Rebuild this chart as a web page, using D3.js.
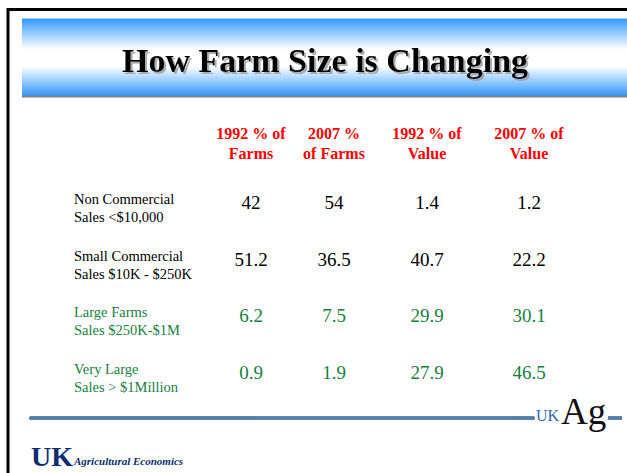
<html><head><title>How Farm Size is Changing</title>
<style>
    body { margin: 0; padding: 0; background: #fff; overflow: hidden; }
    svg { display: block; }
    svg text { font-family: 'Liberation Serif', 'Times New Roman', serif; }
</style>
</head>
<body>
<svg id="chart" width="627" height="473"></svg>
<script src="https://d3js.org/d3.v7.min.js"></script>
<script>
    const title = "How Farm Size is Changing";
    const columns = ["1992 % of Farms", "2007 % of Farms", "1992 % of Value", "2007 % of Value"];
    const columnLines = [["1992 % of", "Farms"], ["2007 %", "of Farms"], ["1992 % of", "Value"], ["2007 % of", "Value"]];
    const rows = ["Non Commercial", "Small Commercial", "Large Farms", "Very Large"];
    const rowSubLabels = ["Sales <$10,000", "Sales $10K - $250K", "Sales $250K-$1M", "Sales > $1Million"];
    const farms1992 = [42, 51.2, 6.2, 0.9];
    const farms2007 = [54, 36.5, 7.5, 1.9];
    const value1992 = [1.4, 40.7, 29.9, 27.9];
    const value2007 = [1.2, 22.2, 30.1, 46.5];
    const seriesValues = [farms1992, farms2007, value1992, value2007];

    const W = 627, H = 473;
    const green = "#17803f";
    const svg = d3.select("#chart");
    const defs = svg.append("defs");

    // frame
    svg.append("path")
        .attr("d", `M8,${H} L8,9.5 L${W},9.5`)
        .attr("fill", "none").attr("stroke", "#000").attr("stroke-width", 3);

    // title banner
    const grad = defs.append("linearGradient").attr("id", "banner")
        .attr("x1", 0).attr("y1", 0).attr("x2", 0).attr("y2", 1);
    grad.append("stop").attr("offset", "0%").attr("stop-color", "#3399ff");
    grad.append("stop").attr("offset", "40%").attr("stop-color", "#ffffff");
    grad.append("stop").attr("offset", "62%").attr("stop-color", "#ffffff");
    grad.append("stop").attr("offset", "100%").attr("stop-color", "#3399ff");

    const rule = defs.append("linearGradient").attr("id", "rule")
        .attr("x1", 0).attr("y1", 0).attr("x2", 0).attr("y2", 1);
    rule.append("stop").attr("offset", "0%").attr("stop-color", "#2c4f7c");
    rule.append("stop").attr("offset", "50%").attr("stop-color", "#5f95cc");
    rule.append("stop").attr("offset", "100%").attr("stop-color", "#2c4f7c");

    const shadow = defs.append("filter").attr("id", "shadow")
        .attr("x", "-5%").attr("y", "-20%").attr("width", "110%").attr("height", "140%");
    shadow.append("feDropShadow").attr("dx", 2).attr("dy", 2).attr("stdDeviation", 0.6)
        .attr("flood-color", "#9a9a9a").attr("flood-opacity", 0.8);

    svg.append("rect").attr("x", 22).attr("y", 95).attr("width", W - 22).attr("height", 2.5).attr("fill", "#808080");
    svg.append("rect").attr("x", 22).attr("y", 18.5).attr("width", W - 22).attr("height", 77).attr("fill", "url(#banner)");

    svg.append("text").attr("x", 325).attr("y", 72)
        .attr("text-anchor", "middle").attr("font-size", 34).attr("font-weight", "bold")
        .attr("fill", "#000").attr("filter", "url(#shadow)").text(title);

    // scales
    const x = d3.scaleOrdinal().domain(columns).range([251, 334, 427, 529]);
    const y = d3.scalePoint().domain(rows).range([209, 379]);
    const color = d3.scaleOrdinal().domain(rows).range(["#000", "#000", green, green]);

    // column headers
    const head = svg.append("g").selectAll("text").data(columns).join("text")
        .attr("x", d => x(d)).attr("y", 139)
        .attr("text-anchor", "middle").attr("font-size", 16).attr("font-weight", "bold")
        .attr("fill", "#ff0000");
    head.each(function(d, i) {
        d3.select(this).selectAll("tspan").data(columnLines[i]).join("tspan")
            .attr("x", x(d)).attr("dy", (t, j) => j === 0 ? 0 : 20).text(t => t);
    });

    // row labels
    const lab = svg.append("g").selectAll("text").data(rows).join("text")
        .attr("x", 74).attr("y", d => y(d) - 5)
        .attr("font-size", 14.5).attr("fill", d => color(d));
    lab.each(function(d, i) {
        d3.select(this).selectAll("tspan").data([d, rowSubLabels[i]]).join("tspan")
            .attr("x", 74).attr("dy", (t, j) => j === 0 ? 0 : 18).text(t => t);
    });

    // values
    const cells = [];
    seriesValues.forEach((vals, c) => vals.forEach((v, r) => cells.push({col: columns[c], row: rows[r], v})));
    svg.append("g").selectAll("text").data(cells).join("text")
        .attr("x", d => x(d.col)).attr("y", d => y(d.row))
        .attr("text-anchor", "middle").attr("font-size", 19)
        .attr("fill", d => color(d.row))
        .text(d => d.v);

    // footer rule and logos
    const ruleY = 418;
    svg.append("rect").attr("x", 29).attr("y", ruleY - 1.75).attr("width", 506).attr("height", 3.5)
        .attr("rx", 1.5).attr("fill", "url(#rule)");

    svg.append("text").attr("x", 536).attr("y", ruleY + 3)
        .attr("font-size", 16).attr("fill", "#2d6aae").text("UK");
    svg.append("text").attr("x", 561).attr("y", ruleY + 6)
        .attr("font-size", 37).attr("fill", "#111").text("Ag");
    svg.append("rect").attr("x", 608).attr("y", ruleY - 1.75).attr("width", 14).attr("height", 3.5)
        .attr("fill", "url(#rule)");

    svg.append("text").attr("x", 31).attr("y", 466)
        .attr("font-size", 28).attr("font-weight", "bold").attr("fill", "#0d2d6e")
        .attr("textLength", 42).attr("lengthAdjust", "spacingAndGlyphs").text("UK");
    svg.append("text").attr("x", 74).attr("y", 465)
        .attr("font-size", 11).attr("font-weight", "bold").attr("font-style", "italic")
        .attr("fill", "#0d2d6e").text("Agricultural Economics");
</script>
</body>
</html>
